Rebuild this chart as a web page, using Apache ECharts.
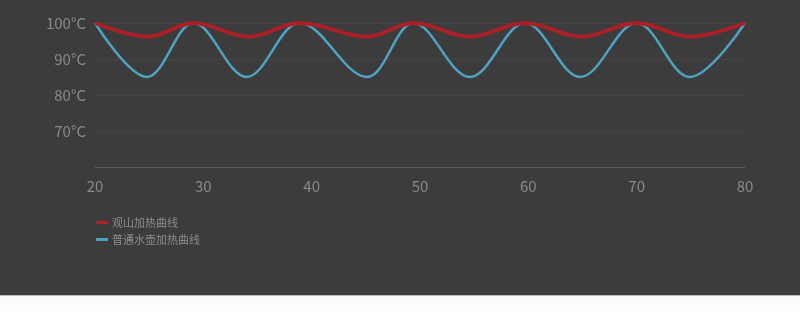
<!DOCTYPE html>
<html>
<head>
<meta charset="utf-8">
<script src="https://cdn.jsdelivr.net/npm/echarts@6/dist/echarts.min.js"></script>
<style>
html,body{margin:0;padding:0;background:#fff;}
#c{width:800px;height:312px;background:linear-gradient(#3c3c3c 0,#3c3c3c 295px,#bdbdbd 295px,#bdbdbd 296px,#fafafa 296px,#fff 312px);}
</style>
</head>
<body>
<div id="c"></div>
<script>
var seriesNames = ['观山加热曲线', '普通水壶加热曲线'];
var xTicks = [20, 30, 40, 50, 60, 70, 80];
var yTicks = [60, 70, 80, 90, 100];
var redX = [20, 24.9, 29.1, 34.2, 38.9, 45.1, 49.4, 54.6, 59.7, 64.9, 70.0, 74.9, 80];
var redY = [100, 96.2, 100, 96.2, 100, 96.2, 100, 96.2, 100, 96.2, 100, 96.2, 100];
var blueX = [20, 24.8, 29.1, 34.0, 38.9, 45.1, 49.4, 54.6, 59.7, 64.8, 70.0, 74.9, 80];
var blueY = [100, 85, 100, 85, 100, 85, 100, 85, 100, 85, 100, 85, 100];

function pairs(xs, ys){ return xs.map(function(x,i){ return [x, ys[i]]; }); }

var chart = echarts.init(document.getElementById('c'), null, {renderer:'canvas'});
chart.setOption({
  backgroundColor: 'transparent',
  animation: false,
  textStyle: {fontFamily: 'Noto Sans CJK SC'},
  grid: {left: 95, right: 55, top: 23, bottom: 145, containLabel: false},
  legend: {
    orient: 'vertical', left: 96, top: 217, padding: 0,
    itemWidth: 12, itemHeight: 3, itemGap: 6,
    icon: 'roundRect',
    textStyle: {color: '#8c8c8c', fontSize: 11, lineHeight: 11, padding: [0,0,0,-1]},
    data: seriesNames
  },
  xAxis: {
    type: 'value', min: xTicks[0], max: xTicks[xTicks.length-1], interval: 10,
    axisLine: {show: true, lineStyle: {color: '#5a5a5a', width: 1}},
    axisTick: {show: false},
    splitLine: {show: false},
    axisLabel: {color: '#8a8a8a', fontSize: 15, margin: 12}
  },
  yAxis: {
    type: 'value', min: yTicks[0], max: yTicks[yTicks.length-1], interval: 10,
    axisLine: {show: false}, axisTick: {show: false},
    splitLine: {show: true, lineStyle: {color: 'rgba(255,255,255,0.05)', width: 1}},
    axisLabel: {color: '#8a8a8a', fontSize: 15, margin: 9,
      formatter: function(v){ return v === yTicks[0] ? '' : v + '°C'; }}
  },
  series: [
    {name: seriesNames[1], type: 'line', data: pairs(blueX, blueY), smooth: 0.36,
     showSymbol: false, symbol: 'none', z: 2,
     lineStyle: {color: '#4fa3c2', width: 2.5}, itemStyle: {color: '#4fa3c2'}},
    {name: seriesNames[0], type: 'line', data: pairs(redX, redY), smooth: 0.36,
     showSymbol: false, symbol: 'none', z: 3,
     lineStyle: {color: '#a92027', width: 4}, itemStyle: {color: '#b0222a'}}
  ]
});
</script>
</body>
</html>
